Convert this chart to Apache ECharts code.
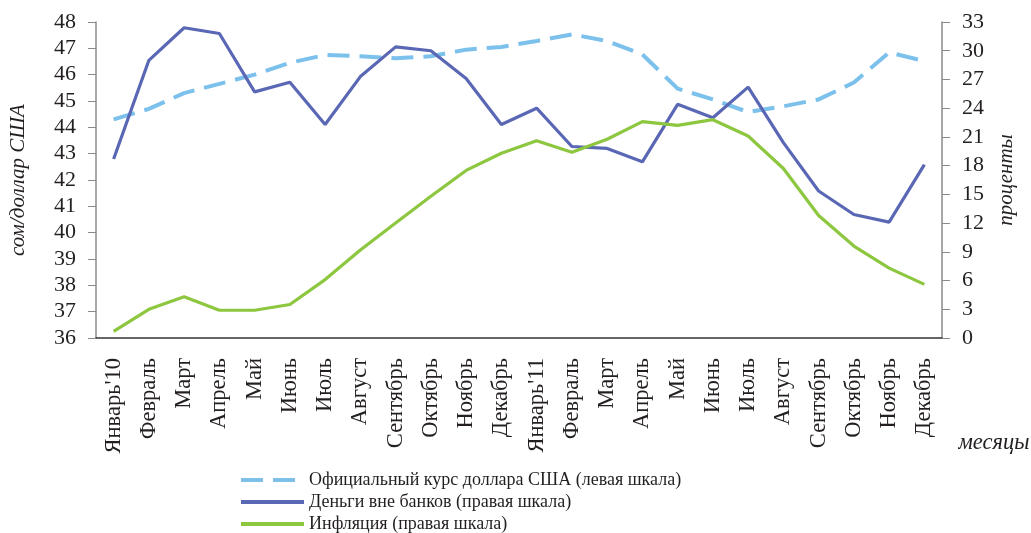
<!DOCTYPE html>
<html><head><meta charset="utf-8">
<script src="https://cdn.jsdelivr.net/npm/echarts@6/dist/echarts.min.js"></script>
<style>html,body{margin:0;padding:0;background:#fff}#c{width:1031px;height:533px}</style>
</head><body><div id="c"></div>
<script>
const months = ["Январь'10","Февраль","Март","Апрель","Май","Июнь","Июль","Август","Сентябрь","Октябрь","Ноябрь","Декабрь",
  "Январь'11","Февраль","Март","Апрель","Май","Июнь","Июль","Август","Сентябрь","Октябрь","Ноябрь","Декабрь"];
const rateUSD = [44.3,44.7,45.3,45.65,46.0,46.45,46.75,46.7,46.62,46.7,46.95,47.05,47.28,47.53,47.28,46.77,45.47,45.06,44.58,44.8,45.06,45.7,46.84,46.52];
const moneyOutside = [18.7,29.0,32.4,31.8,25.7,26.7,22.3,27.3,30.4,30.0,27.1,22.3,24.0,20.0,19.8,18.4,24.4,23.0,26.2,20.4,15.35,12.9,12.1,18.1];
const inflation = [0.7,3.0,4.3,2.9,2.9,3.5,6.1,9.2,12.0,14.8,17.5,19.3,20.6,19.4,20.75,22.6,22.2,22.8,21.1,17.7,12.8,9.6,7.3,5.6];
const leftTicks = {min:36, max:48, step:1};
const rightTicks = {min:0, max:33, step:3};
const names = ["Официальный курс доллара США (левая шкала)","Деньги вне банков (правая шкала)","Инфляция (правая шкала)"];

const FONT = 'Liberation Serif';
const TXT = '#231F20';
const chart = echarts.init(document.getElementById('c'));
chart.setOption({
  animation:false,
  backgroundColor:'#fff',
  grid:{left:96,right:89,top:22,bottom:195},
  legend:{
    orient:'vertical', left:239, top:471, padding:0, itemWidth:63, itemHeight:18, itemGap:4, height:80,
    textStyle:{fontFamily:FONT,fontSize:18,color:TXT,lineHeight:18},
    itemStyle:{opacity:0},
    lineStyle:{width:4},
    data:names
  },
  xAxis:{
    type:'category', data:months, boundaryGap:true,
    axisLine:{lineStyle:{color:'#333',width:1.5}},
    axisTick:{inside:true,length:10,lineStyle:{color:'#333'}},
    axisLabel:{rotate:90,margin:20,fontFamily:FONT,fontSize:22.5,color:TXT,interval:0}
  },
  yAxis:[
    {type:'value',min:leftTicks.min,max:leftTicks.max,interval:leftTicks.step,position:'left',
     splitLine:{show:false},
     axisLine:{show:true,lineStyle:{color:'#8a8a8a',width:1.5}},
     axisTick:{show:true,length:8,lineStyle:{color:'#8a8a8a'}},
     axisLabel:{fontFamily:FONT,fontSize:22,color:TXT,margin:20}},
    {type:'value',min:rightTicks.min,max:rightTicks.max,interval:rightTicks.step,position:'right',
     splitLine:{show:false},
     axisLine:{show:true,lineStyle:{color:'#8a8a8a',width:1.5}},
     axisTick:{show:true,length:8,lineStyle:{color:'#8a8a8a'}},
     axisLabel:{fontFamily:FONT,fontSize:22,color:TXT,margin:20}}
  ],
  graphic:[
    {type:'text',x:18,y:180,rotation:Math.PI/2,style:{text:'сом/доллар США',fontFamily:FONT,fontStyle:'italic',fontSize:21,fill:TXT,align:'center',verticalAlign:'middle'}},
    {type:'text',x:1006,y:180,rotation:Math.PI/2,style:{text:'проценты',fontFamily:FONT,fontStyle:'italic',fontSize:21,fill:TXT,align:'center',verticalAlign:'middle'}},
    {type:'text',x:994,y:443,style:{text:'месяцы',fontFamily:FONT,fontStyle:'italic',fontSize:22.5,fill:TXT,align:'center',verticalAlign:'middle'}}
  ],
  series:[
    {name:names[0],type:'line',yAxisIndex:0,data:rateUSD,symbol:'none',
     lineStyle:{color:'#7CC0EC',width:4,type:[22,10]},itemStyle:{color:'#7CC0EC'}},
    {name:names[1],type:'line',yAxisIndex:1,data:moneyOutside,symbol:'none',
     lineStyle:{color:'#5A67B4',width:3.2},itemStyle:{color:'#5A67B4'}},
    {name:names[2],type:'line',yAxisIndex:1,data:inflation,symbol:'none',
     lineStyle:{color:'#8DC63F',width:3.2},itemStyle:{color:'#8DC63F'}}
  ]
});
</script></body></html>
